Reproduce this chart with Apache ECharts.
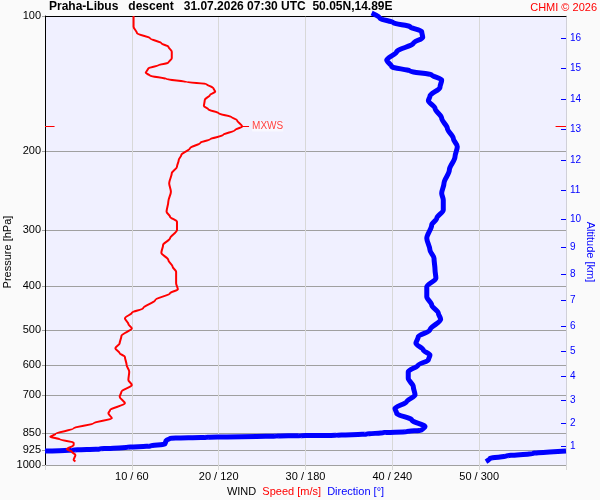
<!DOCTYPE html>
<html><head><meta charset="utf-8">
<script src="https://cdn.jsdelivr.net/npm/echarts@6/dist/echarts.min.js"></script>
<style>html,body{margin:0;padding:0;background:#fafafa}#c{width:600px;height:500px}</style>
</head><body><div id="c"></div>
<script>
// ---- data ----
const titleText = 'Praha-Libus   descent   31.07.2026 07:30 UTC  50.05N,14.89E';
const pressureTicks = [100, 200, 300, 400, 500, 600, 700, 850, 925, 1000];
const altitudeKm = [1, 2, 3, 4, 5, 6, 7, 8, 9, 10, 11, 12, 13, 14, 15, 16];
const altitudePressure = [907, 807.5, 716.6, 633.7, 559.3, 490.2, 429.0, 376.2, 328.1, 283.7, 244.1, 209.3, 178.5, 153.0, 130.8, 112.1];

const speedPressure = [
  100, 105.6, 109.3, 112.1, 115.0, 117.0, 120.1, 124.2, 127.1, 128.6,
  130.8, 133.8, 135.8, 138.1, 140.3, 141.7, 144.9, 147.4, 149.9, 153.8,
  158.6, 161.3, 164.7, 168.1, 170.4, 176.2, 179.4, 184.1, 188.2, 191.5,
  197.1, 204.0, 209.3, 216.6, 224.0, 235.8, 246.2, 259.2, 272.9, 279.9,
  287.2, 299.7, 312.7, 323.6, 336.7, 349.5, 361.7, 371.1, 393.8, 406.1,
  414.5, 429.0, 447.7, 457.9, 471.3, 485.3, 496.1, 516.1, 535.8, 549.7,
  563.9, 573.9, 598.8, 619.7, 646.7, 663.5, 686.7, 704.6, 728.9, 754.3,
  767.3, 787.2, 807.5, 828.6, 853.1, 865.0, 876.6, 891.9, 902.6, 922.6,
  934.1, 950.0, 974.7, 982.2
];
const speedValues = [
  10.2, 10.2, 10.6, 12.1, 13.4, 14.2, 14.6, 14.6, 14.2, 13.1,
  11.9, 11.6, 12.1, 14.0, 16.3, 18.6, 19.4, 19.6, 19.0, 18.4,
  18.3, 18.8, 20.0, 21.5, 22.1, 22.7, 21.9, 20.5, 19.0, 17.9,
  16.7, 15.7, 15.4, 15.2, 14.6, 14.3, 14.5, 14.2, 14.0, 14.4,
  15.2, 15.2, 14.4, 13.6, 13.4, 14.2, 14.7, 15.1, 15.1, 15.3,
  14.4, 12.7, 11.3, 10.0, 9.2, 9.6, 10.0, 8.8, 8.6, 8.1,
  8.6, 9.2, 9.4, 9.7, 9.6, 10.0, 8.8, 8.6, 9.2, 7.5,
  7.3, 7.7, 5.6, 3.3, 1.2, 0.6, 1.7, 3.3, 3.3, 2.5,
  3.1, 3.5, 3.3, 3.5
];

// direction, upper part (down to the 360/0 wrap)
const dirUpperPressure = [
  98.5, 101.2, 103.5, 105.6, 108.4, 111.6, 115.0, 120.1, 125.3, 129.7,
  132.6, 135.3, 138.8, 144.2, 150.7, 154.4, 160.5, 169.0, 177.9, 187.3,
  195.5, 205.8, 220.3, 235.8, 248.2, 256.9, 270.4, 282.2, 292.1, 312.7,
  332.0, 346.5, 367.9, 383.9, 400.7, 421.9, 440.3, 459.3, 473.7, 500.4,
  518.0, 535.8, 554.5, 568.9, 583.7, 598.8, 619.7, 641.1, 669.2, 698.5,
  722.8, 747.8, 767.3, 794.1, 821.7, 835.7, 843.1, 847.5, 853.1, 858.8,
  860.4, 861.8, 867.6, 872.0, 883.0, 897.9, 907.2, 913.3, 921.3, 926.0,
  931
];
const dirUpperValues = [
  225.7, 231.5, 240.7, 252.2, 260.3, 261.0, 254.5, 243.0, 236.1, 239.6,
  252.2, 267.2, 274.1, 272.9, 266.0, 264.9, 269.5, 274.1, 278.0, 282.1,
  284.9, 283.3, 279.4, 275.7, 274.1, 275.2, 275.2, 270.7, 267.2, 263.8,
  266.0, 268.8, 269.5, 270.1, 263.8, 263.8, 267.2, 271.8, 273.4, 266.0,
  257.9, 256.3, 261.4, 266.0, 264.9, 257.9, 251.0, 251.0, 254.5, 255.7,
  249.9, 241.8, 243.0, 253.4, 262.6, 260.3, 249.9, 233.8, 222.3, 201.6,
  176.2, 160.1, 111.7, 86.4, 83.6, 82.9, 72.6, 56.5, 38.0, 19.6,
  0
];
// direction, lower part (after the wrap, down to the surface)
const dirLowerPressure = [931, 941.7, 955.0, 966.3, 983.3];
const dirLowerValues = [360, 337.4, 319.0, 307.5, 304.7];

// ---- chart ----
const FONT = '"Liberation Sans", Arial, sans-serif';
const speedData = speedPressure.map((p, i) => [speedValues[i], p]);
const dirUpperData = dirUpperPressure.map((p, i) => [dirUpperValues[i], p]);
const dirLowerData = dirLowerPressure.map((p, i) => [dirLowerValues[i], p]);

let mxIdx = 0;
speedValues.forEach((v, i) => { if (v > speedValues[mxIdx]) mxIdx = i; });
const mxS = speedValues[mxIdx], mxP = speedPressure[mxIdx];

function kmLabel(v) {
  let best = 0;
  altitudePressure.forEach((p, i) => { if (Math.abs(p - v) < Math.abs(altitudePressure[best] - v)) best = i; });
  return String(altitudeKm[best]);
}

const chart = echarts.init(document.getElementById('c'));
chart.setOption({
  backgroundColor: '#fafafa',
  animation: false,
  title: [
    { text: titleText, left: 49, top: 1, padding: 0,
      textStyle: { fontFamily: FONT, fontSize: 12, fontWeight: 'bold', color: '#000' } },
    { text: 'CHMI © 2026', right: 3, top: 2, padding: 0,
      textStyle: { fontFamily: FONT, fontSize: 11, fontWeight: 'normal', color: '#ff0000' } }
  ],
  graphic: [
    { type: 'text', x: 8, y: 252, rotation: Math.PI / 2, silent: true,
      style: { text: 'Pressure [hPa]', fill: '#000', font: '11px "Liberation Sans", Arial, sans-serif',
        align: 'center', verticalAlign: 'middle' } },
    { type: 'text', x: 590, y: 252, rotation: -Math.PI / 2, silent: true,
      style: { text: 'Altitude [km]', fill: '#0000ff', font: '11px "Liberation Sans", Arial, sans-serif',
        align: 'center', verticalAlign: 'middle' } }
  ],
  grid: { left: 45, right: 34, top: 16, bottom: 35, show: true, backgroundColor: '#f0f0ff', borderWidth: 0,
    containLabel: false, outerBoundsMode: 'none' },
  xAxis: [
    { type: 'value', min: 0, max: 60, interval: 10, position: 'bottom',
      axisLine: { show: true, onZero: false, lineStyle: { color: '#a0a0a0' } },
      axisTick: { show: true, length: 5, lineStyle: { color: '#d8d8d8' } },
      axisLabel: { fontFamily: FONT, fontSize: 11, color: '#000', margin: 6,
        formatter: v => (v > 0 && v < 60) ? (v + ' / ' + v * 6) : '' },
      splitLine: { show: true, lineStyle: { color: '#d8d8d8' } },
      name: '{w|WIND}  {s|Speed [m/s]}  {d|Direction [°]}', nameLocation: 'middle', nameGap: 20,
      nameTextStyle: { fontFamily: FONT, fontSize: 11, rich: {
        w: { color: '#000', fontSize: 11, fontFamily: FONT },
        s: { color: '#ff0000', fontSize: 11, fontFamily: FONT },
        d: { color: '#0000ff', fontSize: 11, fontFamily: FONT } } } },
    { type: 'value', min: 0, max: 360, position: 'top',
      axisLine: { show: true, onZero: false, lineStyle: { color: '#000' } },
      axisTick: { show: false }, axisLabel: { show: false }, splitLine: { show: false } }
  ],
  yAxis: [
    { type: 'log', logBase: 10, min: 100, max: 1000, inverse: true, position: 'left',
      axisLine: { show: true, onZero: false, lineStyle: { color: '#000' } },
      axisTick: { show: true, length: 3, customValues: pressureTicks, lineStyle: { color: '#a0a0a0' } },
      axisLabel: { customValues: pressureTicks, formatter: v => String(Math.round(v)),
        fontFamily: FONT, fontSize: 11, color: '#000', margin: 4 },
      splitLine: { show: true, lineStyle: { color: '#a0a0a0' } },
      minorTick: { show: false }, minorSplitLine: { show: false } },
    { type: 'log', logBase: 10, min: 100, max: 1000, inverse: true, position: 'right',
      axisLine: { show: true, onZero: false, lineStyle: { color: '#d0d0d8' } },
      axisTick: { show: true, inside: true, length: 5, customValues: altitudePressure, lineStyle: { color: '#0000ff' } },
      axisLabel: { customValues: altitudePressure, formatter: kmLabel, fontFamily: FONT, fontSize: 10, color: '#0000ff', margin: 4 },
      splitLine: { show: false } }
  ],
  series: [
    { type: 'line', name: 'dir1', xAxisIndex: 1, yAxisIndex: 0, data: dirUpperData,
      showSymbol: false, clip: false, smooth: 0.3, smoothMonotone: 'y',
      lineStyle: { color: '#0000ff', width: 5 }, z: 2 },
    { type: 'line', name: 'dir2', xAxisIndex: 1, yAxisIndex: 0, data: dirLowerData,
      showSymbol: false, clip: false, smooth: 0.3, smoothMonotone: 'y',
      lineStyle: { color: '#0000ff', width: 5 }, z: 2 },
    { type: 'line', name: 'speed', xAxisIndex: 0, yAxisIndex: 0, data: speedData,
      showSymbol: false, smooth: 0.3, smoothMonotone: 'y',
      lineStyle: { color: '#ff0000', width: 2 }, z: 3,
      markLine: { silent: true, symbol: ['none', 'none'], animation: false,
        lineStyle: { color: '#ff0000', width: 1, type: 'solid' },
        label: { show: true, position: 'end', distance: 3, fontFamily: FONT, fontSize: 10, color: '#ff4040',
          backgroundColor: '#f8f8ff',
          formatter: p => p.dataIndex === 2 ? 'MXWS' : '' },
        emphasis: { disabled: true },
        data: [
          [{ coord: [0, mxP] }, { coord: [1.1, mxP] }],
          [{ coord: [58.8, mxP] }, { coord: [60, mxP] }],
          [{ coord: [mxS, mxP] }, { coord: [mxS + 0.8, mxP] }]
        ] } }
  ]
});
</script>
</body></html>
